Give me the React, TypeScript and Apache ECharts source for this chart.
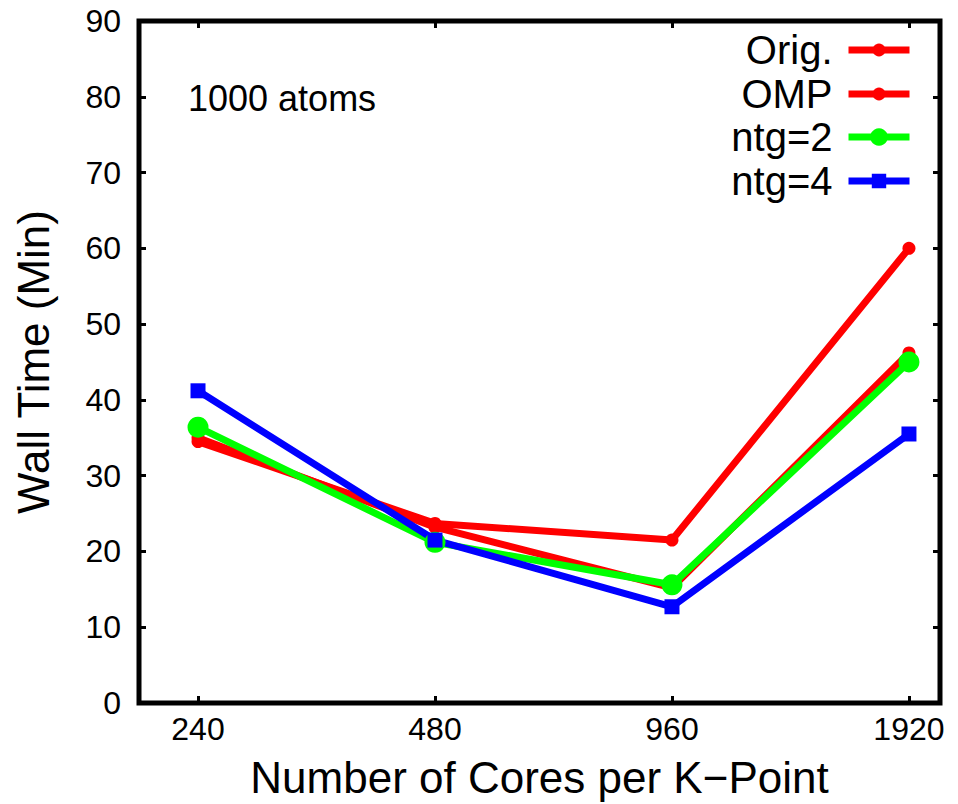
import React, { useEffect, useRef } from "react";
import * as echarts from "echarts";

const categories = ["240", "480", "960", "1920"];
const origValues = [34.5, 23.7, 21.5, 60.0];
const ompValues = [35.0, 23.2, 15.2, 46.2];
const ntg2Values = [36.4, 21.2, 15.6, 45.0];
const ntg4Values = [41.2, 21.5, 12.7, 35.5];
const yTicks = [0, 10, 20, 30, 40, 50, 60, 70, 80, 90];

const FONT = "'Liberation Sans', Arial, Helvetica, sans-serif";

export default function App() {
  const ref = useRef<HTMLDivElement>(null);
  useEffect(() => {
    if (!ref.current) return;
    const chart = echarts.init(ref.current, undefined, { renderer: "svg" });
    const idx = categories.map((_, i) => i);
    const toData = (vals: number[]) => vals.map((v, i) => [i, v]);
    const tickStyle = { inside: true, length: 7, lineStyle: { color: "#000", width: 3 } };
    const xBase = {
      type: "value",
      min: -0.249,
      max: 3.131,
      axisLine: { show: false, onZero: false },
      splitLine: { show: false },
      axisTick: { ...tickStyle, customValues: idx },
    };
    const yBase = {
      type: "value",
      min: 0,
      max: 90,
      interval: 10,
      axisLine: { show: false, onZero: false },
      splitLine: { show: false },
      axisTick: { ...tickStyle },
    };
    const legendDefs = [
      { name: "Orig.", color: "#ff0000", top: 30, h: 16 },
      { name: "OMP", color: "#ff0000", top: 74, h: 16 },
      { name: "ntg=2", color: "#00ff00", top: 117, h: 22 },
      { name: "ntg=4", color: "#0000ff", top: 161, h: 18 },
    ];
    const mkSeries = (name: string, vals: number[], color: string, symbol: string, size: number) => ({
      name,
      type: "line",
      data: toData(vals),
      symbol,
      symbolSize: size,
      lineStyle: { color, width: 7 },
      itemStyle: { color },
      xAxisIndex: 0,
      yAxisIndex: 0,
    });
    chart.setOption({
      animation: false,
      backgroundColor: "#fff",
      textStyle: { fontFamily: FONT },
      grid: {
        left: 139,
        right: 18,
        top: 21,
        bottom: 101,
        show: true,
        borderColor: "#000",
        borderWidth: 5,
        backgroundColor: "transparent",
      },
      xAxis: [
        {
          ...xBase,
          position: "bottom",
          axisLabel: {
            customValues: idx,
            formatter: (v: number) => categories[Math.round(v)] ?? "",
            fontSize: 32,
            color: "#000",
            margin: 10,
            fontFamily: FONT,
          },
          name: "Number of Cores per K\u2212Point",
          nameLocation: "middle",
          nameGap: 52,
          nameTextStyle: { fontSize: 44, color: "#000", fontFamily: FONT },
        },
        {
          ...xBase,
          position: "top",
          axisLabel: { show: false },
        },
      ],
      yAxis: [
        {
          ...yBase,
          position: "left",
          axisLabel: {
            fontSize: 32,
            color: "#000",
            margin: 18,
            fontFamily: FONT,
            formatter: (v: number) => (yTicks.includes(v) ? String(v) : ""),
          },
          name: "Wall Time (Min)",
          nameLocation: "middle",
          nameGap: 84,
          nameTextStyle: { fontSize: 44, color: "#000", fontFamily: FONT },
        },
        {
          ...yBase,
          position: "right",
          axisLabel: { show: false },
        },
      ],
      legend: legendDefs.map((d) => ({
        data: [d.name],
        orient: "vertical",
        right: 45,
        top: d.top,
        padding: 0,
        itemWidth: 61,
        itemHeight: d.h,
        align: "right",
        selectedMode: false,
        lineStyle: { width: 7, color: d.color },
        textStyle: { fontSize: 40, color: "#000", fontFamily: FONT, padding: [0, 11, 0, 0] },
      })),
      graphic: [
        {
          type: "text",
          left: 188,
          top: 80,
          style: { text: "1000 atoms", fontSize: 36, fill: "#000", fontFamily: FONT },
        },
      ],
      series: [
        mkSeries("Orig.", origValues, "#ff0000", "circle", 13),
        mkSeries("OMP", ompValues, "#ff0000", "circle", 13),
        mkSeries("ntg=2", ntg2Values, "#00ff00", "circle", 21),
        mkSeries("ntg=4", ntg4Values, "#0000ff", "rect", 15),
      ],
    });
    return () => chart.dispose();
  }, []);
  return <div ref={ref} style={{ width: 958, height: 804, position: "absolute", left: 0, top: 0 }} />;
}
